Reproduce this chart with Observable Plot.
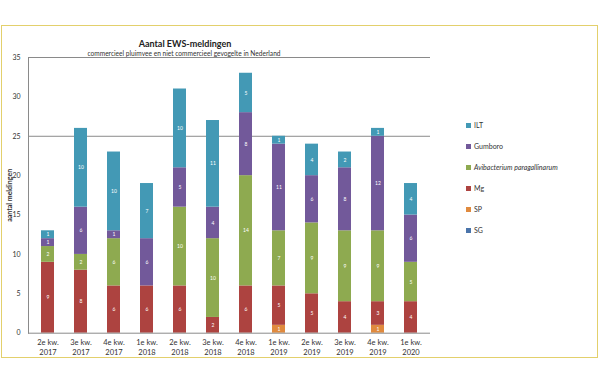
<!DOCTYPE html>
<html><head><meta charset="utf-8">
<script src="https://cdn.jsdelivr.net/npm/d3@7"></script>
<script src="https://cdn.jsdelivr.net/npm/@observablehq/plot@0.6"></script>
<style>
body{margin:0;background:#fff;font-family:Lato,"Open Sans",sans-serif;}
#wrap{position:relative;width:600px;height:384px;overflow:hidden;}
#border{position:absolute;left:1px;top:25px;width:597px;height:333px;border:1.5px solid #e3d06c;box-sizing:border-box;pointer-events:none;}
#title{position:absolute;left:0;width:370px;top:38px;text-align:center;font-size:9px;font-weight:bold;color:#222;}
#subtitle{position:absolute;left:0;width:368px;top:48.5px;text-align:center;font-size:6.6px;color:#333;}
#legend{position:absolute;left:466px;top:121px;font-size:7px;color:#333;}
.item{height:21px;display:flex;align-items:flex-start;}
.sw{width:5px;height:5px;margin-right:3px;margin-top:2px;}
svg [aria-label="y-axis label"]{font-weight:bold;}
</style></head>
<body><div id="wrap"><div id="border"></div><div id="title"></div><div id="subtitle"></div><div id="legend"></div></div>
<script>
const titleText = "Aantal EWS-meldingen";
const subtitleText = "commercieel pluimvee en niet commercieel gevogelte in Nederland";
const yLabel = "aantal meldingen";
const quarters = ["2e kw. 2017","3e kw. 2017","4e kw. 2017","1e kw. 2018","2e kw. 2018","3e kw. 2018","4e kw. 2018","1e kw. 2019","2e kw. 2019","3e kw. 2019","4e kw. 2019","1e kw. 2020"];
const SG      = [0,0,0,0,0,0,0,0,0,0,0,0];
const SP      = [0,0,0,0,0,0,0,1,0,0,1,0];
const Mg      = [9,8,6,6,6,2,6,5,5,4,3,4];
const Avi     = [2,2,6,0,10,10,14,7,9,9,9,5];
const Gumboro = [1,6,1,6,5,4,8,11,6,8,12,6];
const ILT     = [1,10,10,7,10,11,5,1,4,2,1,4];
const seriesNames = ["ILT","Gumboro","Avibacterium paragallinarum","Mg","SP","SG"]; // legend order, top to bottom
const seriesValues = [ILT, Gumboro, Avi, Mg, SP, SG];
const seriesColors = ["#4399b5","#72599a","#8eaa50","#ad4340","#e08a3e","#4a74aa"];
const yTicks = [0,5,10,15,20,25,30,35];
const gridValues = [25,35];

const stackOrder = seriesNames.slice().reverse();
const data = [];
quarters.forEach((q,i)=>{
  for (let k = seriesNames.length-1; k >= 0; k--) data.push({quarter:q, series:seriesNames[k], value:seriesValues[k][i]});
});

const chart = Plot.plot({
  width:600, height:384,
  marginTop:57, marginBottom:51.3, marginLeft:28, marginRight:170,
  style:{fontFamily:"Lato, 'Open Sans', sans-serif", fontSize:"7px", color:"#333", background:"transparent"},
  x:{domain:quarters, paddingInner:0.61, paddingOuter:0.305, axis:null},
  y:{domain:[0,35], axis:null},
  color:{domain:seriesNames, range:seriesColors},
  marks:[
    Plot.ruleY(gridValues, {stroke:"#8a8a8a", strokeWidth:1}),
    Plot.axisY({ticks:yTicks, tickSize:0, tickPadding:8, label:yLabel, labelAnchor:"center", labelOffset:21, labelArrow:"none", fontSize:7}),
    Plot.axisX({tickSize:0, tickPadding:5, tickFormat:d=>d.replace(" 20","\n20"), fontSize:7.5, lineHeight:1.3, label:null}),
    Plot.barY(data, {x:"quarter", y:"value", fill:"series", z:"series", order:stackOrder}),
    Plot.text(data.filter(d=>d.value>0), Plot.stackY({x:"quarter", y:"value", z:"series", order:stackOrder, text:"value", fill:"white", fontSize:5})),
    Plot.ruleY([0], {stroke:"#8a8a8a"}),
    Plot.frame({anchor:"left", stroke:"#8a8a8a"})
  ]
});
const wrap = document.getElementById("wrap");
chart.style.position="absolute"; chart.style.left="0"; chart.style.top="0";
wrap.insertBefore(chart, wrap.firstChild);
document.getElementById("title").textContent = titleText;
document.getElementById("subtitle").textContent = subtitleText;
const legend = document.getElementById("legend");
seriesNames.forEach((n,i)=>{
  const it = document.createElement("div"); it.className="item";
  const sw = document.createElement("div"); sw.className="sw"; sw.style.background=seriesColors[i];
  const t = document.createElement("span"); t.textContent=n;
  if (n.startsWith("Avibacterium")) t.style.fontStyle="italic";
  it.appendChild(sw); it.appendChild(t); legend.appendChild(it);
});
</script></body></html>
